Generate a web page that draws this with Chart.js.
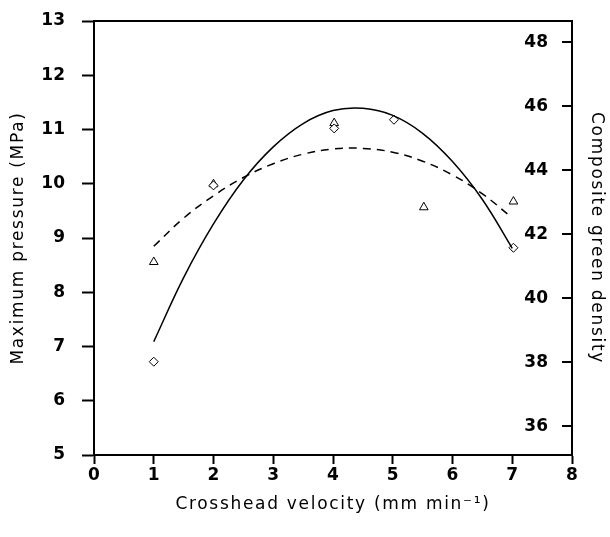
<!DOCTYPE html>
<html>
<head>
<meta charset="utf-8">
<script src="https://cdn.jsdelivr.net/npm/chart.js@4"></script>
<style>
  body { margin: 0; background: #fff; }
  canvas { display: block; }
</style>
</head>
<body>
<canvas id="pressureChart" width="610" height="537"></canvas>
<script>
// Data
const pressureX = [1, 2, 4.02, 5.02, 7.02];
const pressureY = [6.72, 9.97, 11.02, 11.18, 8.82];

const densityX = [1, 2, 4.02, 5.52, 7.02];
const densityY = [41.13, 43.56, 45.47, 42.84, 43.02];

// fitted curves (solid = pressure, dashed = density)
const fitX = [1, 1.5, 2, 2.5, 3, 3.5, 4, 4.5, 5, 5.5, 6, 6.5, 7];
const pressureFit = [7.09, 8.27, 9.26, 10.07, 10.68, 11.11, 11.35, 11.39, 11.26, 10.93, 10.41, 9.71, 8.81];
const densityFit = [41.62, 42.5, 43.2, 43.77, 44.2, 44.5, 44.66, 44.68, 44.56, 44.28, 43.85, 43.26, 42.51];

const xTicks = [0, 1, 2, 3, 4, 5, 6, 7, 8];
const leftTicks = [5, 6, 7, 8, 9, 10, 11, 12, 13];
const rightTicks = [36, 38, 40, 42, 44, 46, 48];

const toPoints = (xs, ys) => xs.map((x, i) => ({ x: x, y: ys[i] }));

const tickFont = { family: "DejaVu Sans", size: 17, weight: "bold" };
const titleFont = { family: "DejaVu Sans", size: 17 };

// axis titles in the original are wide, spread them a bit
// (tick labels are on z:1 so they are drawn after this is reset)
const spacingPlugin = {
  id: "spacing",
  beforeDraw(chart) {
    chart.ctx.letterSpacing = "1.7px";
  },
  afterDatasetsDraw(chart) {
    chart.ctx.letterSpacing = "0px";
  },
};

// inward tick marks on the right axis
const rightTickPlugin = {
  id: "rightTicks",
  afterDraw(chart) {
    const s = chart.scales.y2;
    const ctx = chart.ctx;
    ctx.save();
    ctx.strokeStyle = "#000";
    ctx.lineWidth = 2;
    s.ticks.forEach((t) => {
      const y = Math.round(s.getPixelForValue(t.value));
      ctx.beginPath();
      ctx.moveTo(s.left, y);
      ctx.lineTo(s.left - 10, y);
      ctx.stroke();
    });
    ctx.restore();
  },
};

const ctx = document.getElementById("pressureChart").getContext("2d");
new Chart(ctx, {
  type: "scatter",
  data: {
    datasets: [
      {
        type: "line",
        data: toPoints(fitX, pressureFit),
        yAxisID: "y",
        borderColor: "#000",
        borderWidth: 1.5,
        pointRadius: 0,
        tension: 0.4,
        fill: false,
      },
      {
        type: "line",
        data: toPoints(fitX, densityFit),
        yAxisID: "y2",
        borderColor: "#000",
        borderWidth: 1.5,
        borderDash: [8, 6],
        pointRadius: 0,
        tension: 0.4,
        fill: false,
      },
      {
        data: toPoints(pressureX, pressureY),
        yAxisID: "y",
        pointStyle: "rectRot",
        pointRadius: 4.5,
        borderColor: "#000",
        borderWidth: 1,
        backgroundColor: "#fff",
      },
      {
        data: toPoints(densityX, densityY),
        yAxisID: "y2",
        pointStyle: "triangle",
        pointRadius: 5,
        borderColor: "#000",
        borderWidth: 1,
        backgroundColor: "#fff",
      },
    ],
  },
  options: {
    responsive: false,
    animation: false,
    layout: { padding: 0 },
    plugins: {
      legend: { display: false },
      tooltip: { enabled: false },
    },
    scales: {
      x: {
        type: "linear",
        position: "bottom",
        min: 0,
        max: 8,
        afterBuildTicks: (s) => { s.ticks = xTicks.map((v) => ({ value: v })); },
        afterFit: (s) => { s.height = 82; },
        grid: { drawOnChartArea: false, tickLength: 9, tickWidth: 2, color: "#000" },
        border: { color: "#000", width: 2 },
        ticks: { color: "#000", font: tickFont, padding: 1, maxRotation: 0, z: 1 },
        title: {
          display: true,
          text: "Crosshead velocity (mm min\u207B\u00B9)",
          color: "#000",
          font: titleFont,
          padding: { top: 4, bottom: 22 },
        },
      },
      xTop: {
        type: "linear",
        position: "top",
        min: 0,
        max: 8,
        afterFit: (s) => { s.height = 21; },
        grid: { display: false },
        border: { color: "#000", width: 2 },
        ticks: { display: false },
      },
      y: {
        type: "linear",
        position: "left",
        min: 5,
        max: 13,
        afterBuildTicks: (s) => { s.ticks = leftTicks.map((v) => ({ value: v })); },
        afterFit: (s) => {
          s.width = 94;
          s.paddingTop = 0;
          s.paddingBottom = 0;
        },
        grid: { drawOnChartArea: false, tickLength: 12, tickWidth: 2, color: "#000" },
        border: { color: "#000", width: 2 },
        ticks: { color: "#000", font: tickFont, padding: 17, z: 1 },
        title: {
          display: true,
          text: "Maximum pressure (MPa)",
          color: "#000",
          font: titleFont,
          padding: { top: 8, bottom: 0 },
        },
      },
      y2: {
        type: "linear",
        position: "right",
        min: 35.1,
        max: 48.66,
        afterBuildTicks: (s) => { s.ticks = rightTicks.map((v) => ({ value: v })); },
        afterFit: (s) => {
          s.width = 38;
          s.paddingTop = 0;
          s.paddingBottom = 0;
        },
        grid: { drawOnChartArea: false, drawTicks: false },
        border: { color: "#000", width: 2 },
        ticks: { color: "#000", font: tickFont, mirror: true, padding: -24, z: 1 },
        title: {
          display: true,
          text: "Composite green density",
          color: "#000",
          font: titleFont,
          padding: { top: 3, bottom: 0 },
        },
      },
    },
  },
  plugins: [spacingPlugin, rightTickPlugin],
});
</script>
</body>
</html>
